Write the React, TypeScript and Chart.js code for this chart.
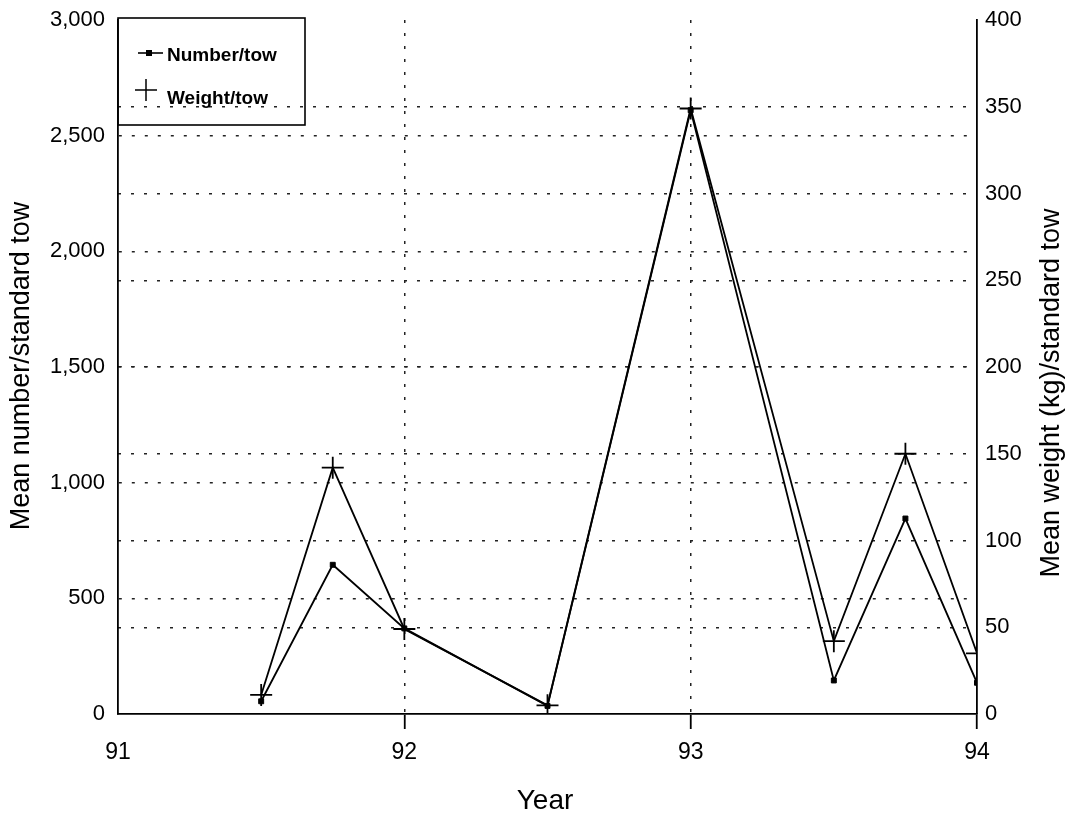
import React, { useEffect, useRef } from "react";
import { Chart, registerables } from "chart.js";

Chart.register(...registerables);

// Survey years (fractional = seasonal cruise within the year)
const years = [91.5, 91.75, 92, 92.5, 93, 93.5, 93.75, 94];
// Mean catch per standard tow
const numberPerTow = [55, 645, 370, 35, 2610, 145, 845, 135];
const weightPerTow = [11, 142, 49, 5, 349, 42, 150, 35];

const xTicks = [91, 92, 93, 94];
const FONT = "'Liberation Sans', Arial, Helvetica, sans-serif";

const dotted = [3, 10];
const gridInk = "#222";
const clear = "rgba(0,0,0,0)";

const overlayPlugin = {
  id: "overlay",
  afterDraw(chart: any) {
    const { ctx, chartArea } = chart;
    ctx.save();
    ctx.fillStyle = "#000";
    ctx.strokeStyle = "#000";

    // axis titles
    ctx.font = `27px ${FONT}`;
    ctx.textAlign = "center";
    ctx.textBaseline = "middle";
    ctx.save();
    ctx.translate(22, 366);
    ctx.rotate(-Math.PI / 2);
    ctx.fillText("Mean number/standard tow", 0, 0);
    ctx.restore();
    ctx.save();
    ctx.translate(1052, 393);
    ctx.rotate(-Math.PI / 2);
    ctx.fillText("Mean weight (kg)/standard tow", 0, 0);
    ctx.restore();
    ctx.font = `28px ${FONT}`;
    ctx.fillText("Year", 545, 801);

    // legend box
    const lx = chartArea.left;
    const ly = 18;
    ctx.lineWidth = 1.6;
    ctx.strokeRect(lx, ly, 305 - lx, 125 - ly);
    // Number/tow entry
    ctx.beginPath();
    ctx.moveTo(138, 53);
    ctx.lineTo(163, 53);
    ctx.stroke();
    ctx.fillRect(146, 50, 6, 6);
    // Weight/tow entry
    ctx.lineWidth = 1.5;
    ctx.beginPath();
    ctx.moveTo(135, 90);
    ctx.lineTo(157, 90);
    ctx.moveTo(146, 79);
    ctx.lineTo(146, 101);
    ctx.stroke();
    ctx.font = `bold 19px ${FONT}`;
    ctx.textAlign = "left";
    ctx.fillText("Number/tow", 167, 56);
    ctx.fillText("Weight/tow", 167, 99);
    ctx.restore();
  },
};

export default function App() {
  const ref = useRef<HTMLCanvasElement>(null);

  useEffect(() => {
    if (!ref.current) return;
    const chart = new Chart(ref.current, {
      type: "line",
      data: {
        datasets: [
          {
            label: "Number/tow",
            data: years.map((x, i) => ({ x, y: numberPerTow[i] })),
            yAxisID: "yNum",
            borderColor: "#000",
            backgroundColor: "#000",
            borderWidth: 1.8,
            pointStyle: "rect",
            pointRadius: 3.5,
            pointBorderWidth: 1,
            tension: 0,
          },
          {
            label: "Weight/tow",
            data: years.map((x, i) => ({ x, y: weightPerTow[i] })),
            yAxisID: "yWt",
            borderColor: "#000",
            backgroundColor: "#000",
            borderWidth: 1.8,
            pointStyle: "cross",
            pointRadius: 11,
            pointBorderWidth: 1.8,
            tension: 0,
          },
        ],
      },
      options: {
        responsive: false,
        animation: false,
        layout: { padding: { top: 20, left: 0, right: 0, bottom: 0 } },
        plugins: { legend: { display: false }, tooltip: { enabled: false } },
        scales: {
          x: {
            type: "linear",
            min: 91,
            max: 94,
            afterFit: (s: any) => {
              s.height = 104;
              s.paddingLeft = 0;
              s.paddingRight = 0;
            },
            afterBuildTicks: (s: any) => {
              s.ticks = xTicks.map((v) => ({ value: v }));
            },
            border: { display: true, color: "#000", width: 1.8, dash: dotted },
            grid: {
              color: (c: any) =>
                c.tick && (c.tick.value === 91 || c.tick.value === 94) ? clear : gridInk,
              lineWidth: 1.5,
              drawTicks: true,
              tickLength: 15,
              tickColor: (c: any) => (c.tick && c.tick.value === 91 ? clear : "#000"),
              tickBorderDash: [],
              tickWidth: 1.8,
            },
            ticks: {
              color: "#000",
              font: { family: FONT, size: 23 },
              padding: 10,
              callback: (v: any) => String(v),
            },
          },
          yNum: {
            type: "linear",
            position: "left",
            min: 0,
            max: 3000,
            afterFit: (s: any) => {
              s.width = 118;
              s.paddingTop = 0;
              s.paddingBottom = 0;
            },
            border: { display: true, color: "#000", width: 1.8, dash: dotted },
            grid: {
              color: (c: any) =>
                c.tick && (c.tick.value === 0 || c.tick.value === 3000) ? clear : gridInk,
              lineWidth: 1.5,
              drawTicks: false,
            },
            ticks: {
              stepSize: 500,
              color: "#000",
              font: { family: FONT, size: 22 },
              padding: 13,
              callback: (v: any) => Number(v).toLocaleString("en-US"),
            },
          },
          yWt: {
            type: "linear",
            position: "right",
            min: 0,
            max: 400,
            afterFit: (s: any) => {
              s.width = 97;
              s.paddingTop = 0;
              s.paddingBottom = 0;
            },
            border: { display: true, color: "#000", width: 1.8, dash: dotted },
            grid: {
              color: (c: any) =>
                c.tick && (c.tick.value === 0 || c.tick.value === 400) ? clear : gridInk,
              lineWidth: 1.5,
              drawTicks: false,
            },
            ticks: {
              stepSize: 50,
              color: "#000",
              font: { family: FONT, size: 22 },
              padding: 8,
            },
          },
        },
      },
      plugins: [overlayPlugin],
    });
    return () => chart.destroy();
  }, []);

  return (
    <div style={{ position: "absolute", left: 0, top: 0, width: 1074, height: 818, background: "#fff" }}>
      <canvas ref={ref} width={1074} height={818} style={{ display: "block" }} />
    </div>
  );
}
